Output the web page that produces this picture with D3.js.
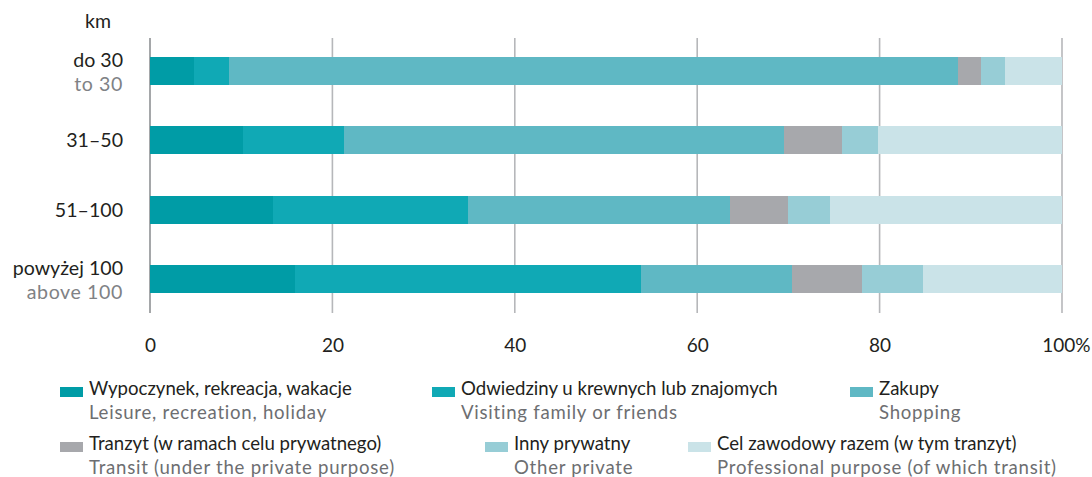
<!DOCTYPE html>
<html><head><meta charset="utf-8">
<script src="https://cdn.jsdelivr.net/npm/d3@7"></script>
<style>
html,body{margin:0;padding:0;background:#fff;}
svg text{font-family:"Lato","Open Sans",sans-serif;}
</style></head>
<body>
<svg id="chart" width="1092" height="477"></svg>
<script>
const categories = ["do 30", "31–50", "51–100", "powyżej 100"];
const categoriesEn = ["to 30", "", "", "above 100"];
const seriesKeys = ["leisure", "visiting", "shopping", "transit", "otherPrivate", "professional"];
const seriesPl = ["Wypoczynek, rekreacja, wakacje", "Odwiedziny u krewnych lub znajomych", "Zakupy",
  "Tranzyt (w ramach celu prywatnego)", "Inny prywatny", "Cel zawodowy razem (w tym tranzyt)"];
const seriesEn = ["Leisure, recreation, holiday", "Visiting family or friends", "Shopping",
  "Transit (under the private purpose)", "Other private", "Professional purpose (of which transit)"];
const colors = ["#009ca6", "#10a9b5", "#5fb8c4", "#a7a8ac", "#97cdd6", "#cae3e8"];
const leisure      = [4.8, 10.2, 13.5, 15.9];
const visiting     = [3.9, 11.1, 21.4, 37.9];
const shopping     = [79.9, 48.2, 28.7, 16.6];
const transit      = [2.5, 6.4, 6.4, 7.7];
const otherPrivate = [2.6, 3.9, 4.6, 6.7];
const professional = [6.3, 20.2, 25.4, 15.2];
const tickValues = [0, 20, 40, 60, 80, 100];
const tickLabels = ["0", "20", "40", "60", "80", "100%"];
const unitLabel = "km";

const seriesValues = [leisure, visiting, shopping, transit, otherPrivate, professional];
const rows = categories.map((c, i) => {
  const r = {cat: c};
  seriesKeys.forEach((k, j) => r[k] = seriesValues[j][i]);
  return r;
});
const stacked = d3.stack().keys(seriesKeys)(rows);

const svg = d3.select("#chart");
const x = d3.scaleLinear().domain([0, 100]).range([150, 1062]);
const y = d3.scaleBand().domain(categories).range([36.3, 313.9]).paddingInner(0.597).paddingOuter(0.2985);

// gridlines
svg.append("g").selectAll("line").data(tickValues).join("line")
  .attr("x1", d => x(d)).attr("x2", d => x(d))
  .attr("y1", 38).attr("y2", 313)
  .attr("stroke", d => d === 0 ? "#8f9194" : "#b6b7ba")
  .attr("stroke-width", 1.6);

// bars
svg.append("g").selectAll("g").data(stacked).join("g")
  .attr("fill", (d, i) => colors[i])
  .selectAll("rect").data(d => d).join("rect")
  .attr("x", d => x(d[0]))
  .attr("width", d => x(d[1]) - x(d[0]))
  .attr("y", d => y(d.data.cat))
  .attr("height", y.bandwidth())
  .attr("shape-rendering", "crispEdges");

// x axis tick labels
const xAxis = d3.axisBottom(x).tickValues(tickValues).tickFormat((d, i) => tickLabels[i]).tickSize(0).tickPadding(0);
const gx = svg.append("g").attr("transform", "translate(0,338)").call(xAxis);
gx.select(".domain").remove();
gx.selectAll("text").attr("font-size", 19).attr("font-family", "Lato").attr("fill", "#231f20").attr("dy", "0.71em")
  .attr("text-anchor", d => d === 100 ? "end" : "middle")
  .attr("dx", d => d === 100 ? 28 : 0);

// y labels
svg.append("text").attr("x", 111).attr("y", 28).attr("text-anchor", "end")
  .attr("font-size", 19.5).attr("fill", "#231f20").text(unitLabel);
const yl = svg.append("g");
categories.forEach((c, i) => {
  const cy = y(c) + y.bandwidth() / 2;
  const hasEn = categoriesEn[i] !== "";
  yl.append("text").attr("x", 123).attr("y", hasEn ? cy - 4 : cy + 7)
    .attr("text-anchor", "end").attr("font-size", 19.6).attr("fill", "#231f20").text(c);
  if (hasEn) yl.append("text").attr("x", 123).attr("y", cy + 20)
    .attr("text-anchor", "end").attr("font-size", 19.6).attr("letter-spacing", 0.6)
    .attr("fill", "#808285").text(categoriesEn[i]);
});

// legend
const legendPos = [[60, 395], [432, 395], [850, 395], [60, 450], [485, 450], [688, 450]];
const lg = svg.append("g");
seriesPl.forEach((s, i) => {
  const [lx, ly] = legendPos[i];
  lg.append("rect").attr("x", lx).attr("y", ly - 8).attr("width", 23).attr("height", 10).attr("fill", colors[i]);
  lg.append("text").attr("x", lx + 29).attr("y", ly).attr("font-size", 18.6).attr("fill", "#231f20").text(s);
  lg.append("text").attr("x", lx + 29).attr("y", ly + 24).attr("font-size", 18.6).attr("letter-spacing", 0.75)
    .attr("fill", "#6d6e71").text(seriesEn[i]);
});
</script>
</body></html>
